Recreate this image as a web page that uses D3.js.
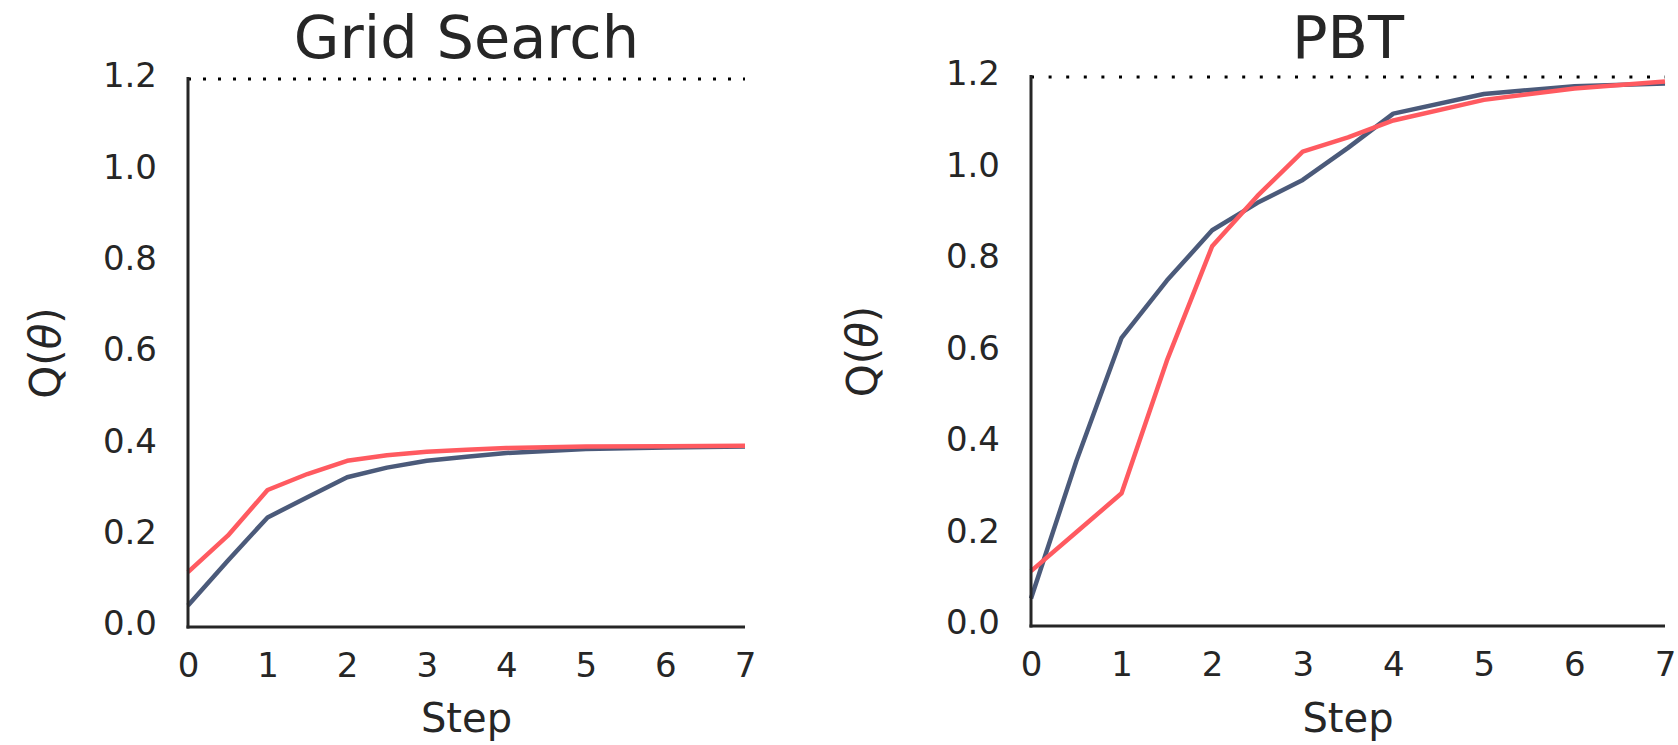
<!DOCTYPE html>
<html>
<head>
<meta charset="utf-8">
<script src="https://cdn.jsdelivr.net/npm/d3@7"></script>
<style>
  html, body { margin: 0; padding: 0; background: #fff; }
  svg { display: block; }
  text { font-family: "DejaVu Sans", sans-serif; fill: #262626; }
</style>
</head>
<body>
<svg id="chart" width="1678" height="745"></svg>
<script>
// ---- data ----
const steps = [0, 0.5, 1, 1.5, 2, 2.5, 3, 3.5, 4, 5, 6, 7];
const gridBlue = [0.047, 0.145, 0.240, 0.284, 0.328, 0.349, 0.364, 0.373, 0.381, 0.390, 0.393, 0.395];
const gridRed  = [0.120, 0.200, 0.300, 0.335, 0.364, 0.376, 0.384, 0.388, 0.392, 0.395, 0.396, 0.397];
const pbtBlue  = [0.060, 0.360, 0.630, 0.755, 0.865, 0.925, 0.975, 1.045, 1.120, 1.163, 1.180, 1.186];
const pbtRed   = [0.120, 0.205, 0.290, 0.580, 0.830, 0.940, 1.037, 1.068, 1.105, 1.150, 1.175, 1.190];
const xTicks = [0, 1, 2, 3, 4, 5, 6, 7];
const yTicks = [0.0, 0.2, 0.4, 0.6, 0.8, 1.0, 1.2];
const optimum = 1.2;
const titles = ["Grid Search", "PBT"];
const xLabel = "Step";

const colors = { blue: "#4b5a7a", red: "#ff5a60", axis: "#262626" };

const svg = d3.select("#chart");

function drawPanel(p) {
  const x = d3.scaleLinear().domain([0, 7]).range([p.left, p.right]);
  const y = d3.scaleLinear().domain([0, 1.2]).range([p.bottom, p.top]);
  const g = svg.append("g");

  // dotted optimum line
  g.append("line")
    .attr("x1", x(0)).attr("x2", x(7))
    .attr("y1", y(optimum)).attr("y2", y(optimum))
    .attr("stroke", "#000").attr("stroke-width", 3)
    .attr("stroke-dasharray", p.dash);

  const line = d3.line().x((d, i) => x(steps[i])).y(d => y(d));
  g.append("path").datum(p.blue)
    .attr("d", line).attr("fill", "none")
    .attr("stroke", colors.blue).attr("stroke-width", 4.5)
    .attr("stroke-linejoin", "round");
  g.append("path").datum(p.red)
    .attr("d", line).attr("fill", "none")
    .attr("stroke", colors.red).attr("stroke-width", 4.5)
    .attr("stroke-linejoin", "round");

  // axes
  const xAxis = d3.axisBottom(x).tickValues(xTicks).tickSize(0).tickPadding(0).tickFormat(d3.format("d"));
  const yAxis = d3.axisLeft(y).tickValues(yTicks).tickSize(0).tickPadding(0).tickFormat(d3.format(".1f"));

  const gx = g.append("g").attr("transform", `translate(0,${p.bottom})`).call(xAxis);
  gx.select(".domain").remove();
  gx.selectAll("text")
    .attr("y", 38).attr("dy", "0.35em")
    .style("font-size", "34px").style("font-family", "DejaVu Sans").attr("fill", "#262626");

  const gy = g.append("g").attr("transform", `translate(${p.left},0)`).call(yAxis);
  gy.select(".domain").remove();
  gy.selectAll("text")
    .attr("x", -31).attr("dy", "0.35em").attr("y", -4)
    .style("font-size", "34px").style("font-family", "DejaVu Sans").attr("fill", "#262626");

  // spines
  g.append("line")
    .attr("x1", p.left).attr("x2", p.left)
    .attr("y1", p.top - 2).attr("y2", p.bottom + 1.5)
    .attr("stroke", colors.axis).attr("stroke-width", 3);
  g.append("line")
    .attr("x1", p.left - 1.5).attr("x2", p.right)
    .attr("y1", p.bottom).attr("y2", p.bottom)
    .attr("stroke", colors.axis).attr("stroke-width", 3);

  // title
  g.append("text")
    .attr("x", (p.left + p.right) / 2).attr("y", 58)
    .attr("text-anchor", "middle")
    .style("font-size", "59px")
    .text(p.title);

  // x label
  g.append("text")
    .attr("x", (p.left + p.right) / 2).attr("y", 732)
    .attr("text-anchor", "middle")
    .style("font-size", "40px")
    .text(xLabel);

  // y label Q(θ)
  const yl = g.append("text")
    .attr("transform", `translate(${p.ylabX},${(p.top + p.bottom) / 2}) rotate(-90)`)
    .attr("text-anchor", "middle")
    .attr("dy", "0.35em")
    .style("font-size", "42px");
  yl.append("tspan").text("Q");
  yl.append("tspan").text("(");
  yl.append("tspan").style("font-style", "italic").text("θ");
  yl.append("tspan").text(")");
}

drawPanel({ left: 188, right: 745, top: 79, bottom: 627, blue: gridBlue, red: gridRed,
            title: titles[0], ylabX: 45, dash: "3,12" });
drawPanel({ left: 1031, right: 1665, top: 77, bottom: 626, blue: pbtBlue, red: pbtRed,
            title: titles[1], ylabX: 862, dash: "3,14.6" });
</script>
</body>
</html>
